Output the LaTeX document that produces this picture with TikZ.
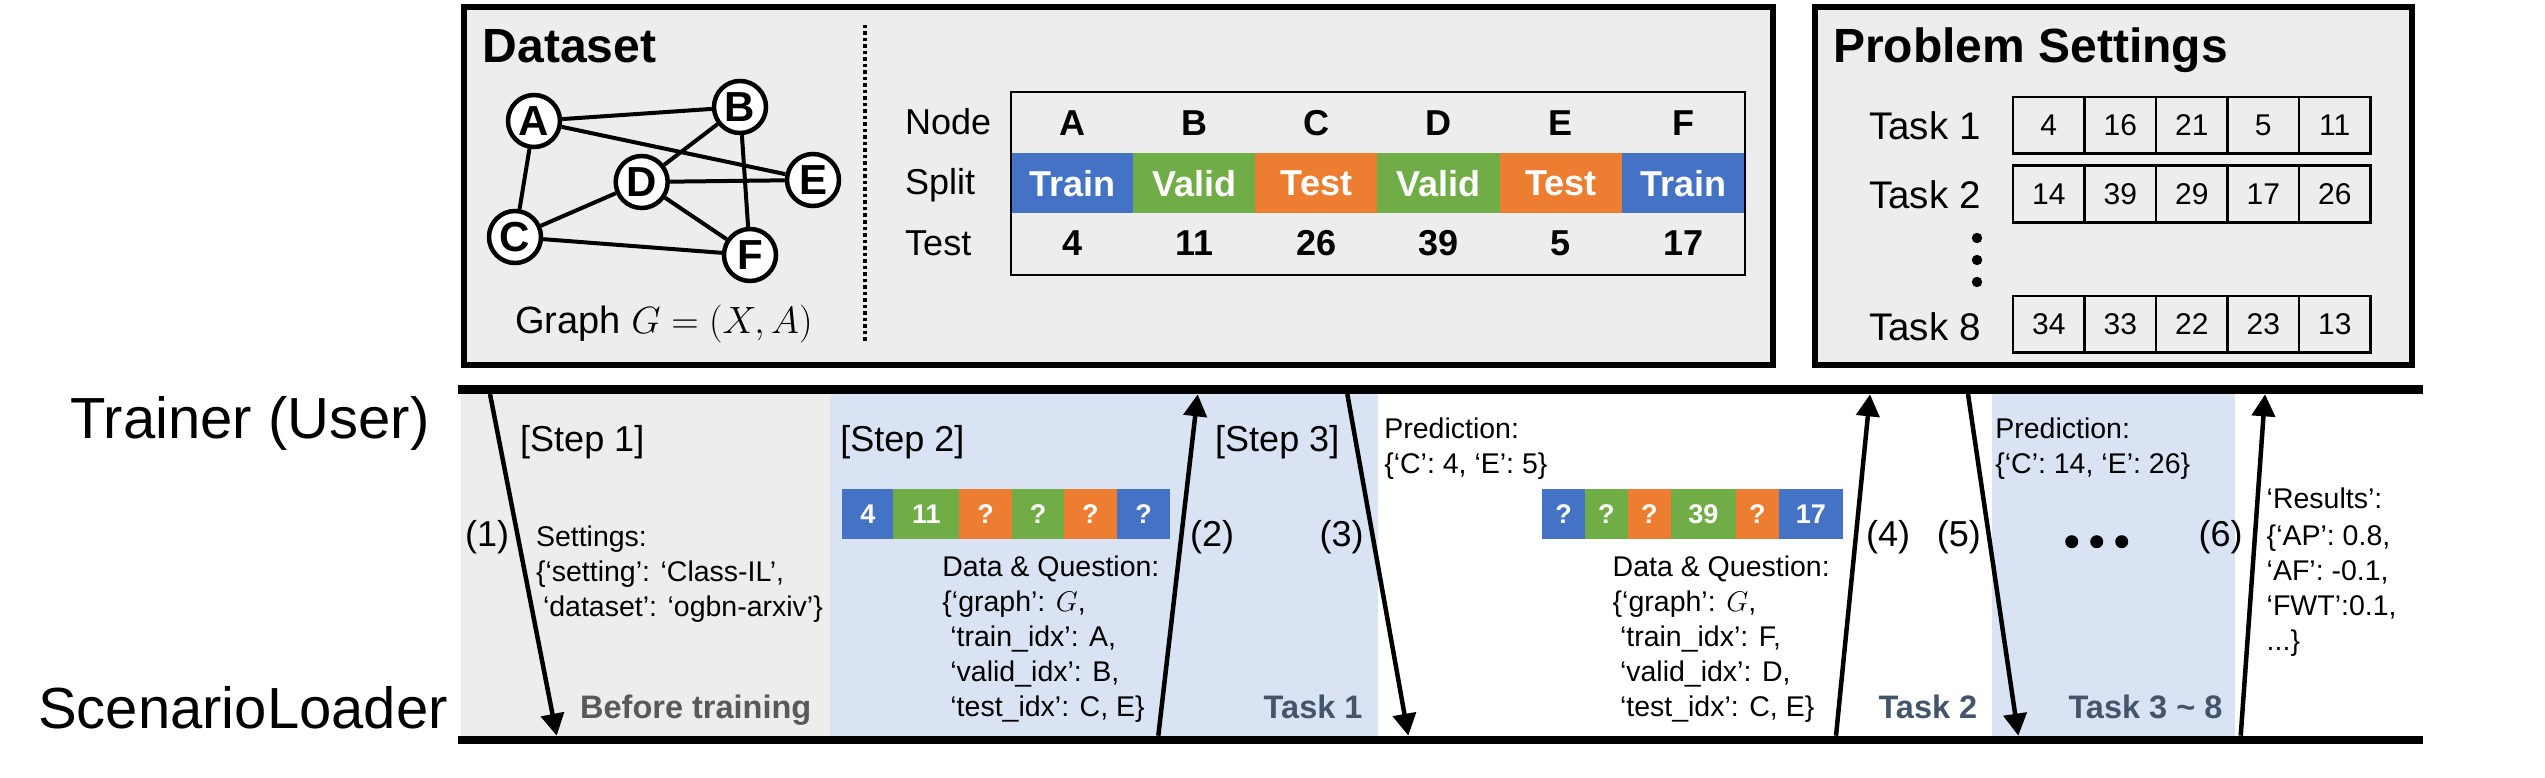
\RequirePackage{fix-cm}
\documentclass[tikz,border=0pt]{standalone}
\usepackage{fontspec}
\setmainfont{Liberation Sans}
\usetikzlibrary{arrows.meta}
\definecolor{cblue}{HTML}{4472C4}
\definecolor{cgreen}{HTML}{70AD47}
\definecolor{corange}{HTML}{ED7D31}
\definecolor{cbg}{HTML}{EDEDED}
\definecolor{clblue}{HTML}{DAE3F3}
\definecolor{ctask}{HTML}{44546A}
\definecolor{cgray}{HTML}{595959}
\newcommand\myfs[1]{\fontsize{#1}{#1}\selectfont}
\begin{document}
\begin{tikzpicture}[x=1pt,y=-1pt,
 txt/.style={inner sep=0pt, outer sep=0pt, anchor=base west, font=\myfs{28.5}},
 big/.style={inner sep=0pt, anchor=base west, font=\myfs{58}},
 ttl/.style={inner sep=0pt, anchor=base west, font=\myfs{48}\bfseries},
 lbl/.style={inner sep=0pt, anchor=base west, font=\myfs{36}},
 gnode/.style={circle, draw, fill=white, line width=4.5pt, minimum size=52pt, inner sep=0pt, font=\myfs{42}\bfseries},
 gedge/.style={line width=4pt},
 hd/.style={inner sep=0pt, font=\myfs{36}\bfseries},
 splitcell/.style={inner sep=0pt, minimum width=122.6pt, minimum height=60pt, text=white, font=\myfs{36}\bfseries},
 qcell/.style={inner sep=0pt, minimum height=50pt, text=white, font=\myfs{27}\bfseries},
 tcell/.style={draw, line width=2.5pt, inner sep=0pt, minimum width=71.5pt, minimum height=56.5pt, font=\myfs{30}},
 tasklbl/.style={inner sep=0pt, font=\myfs{32.5}\bfseries, text=ctask},
 msg/.style={line width=4.5pt, -{Triangle[length=22pt,width=23pt]}},
 bigbox/.style={line width=6pt, fill=cbg},
 lifeline/.style={line width=9pt},
]
\useasboundingbox (0,0) rectangle (2545,778);

% ---------- top boxes ----------
\draw[bigbox] (463.5,7) rectangle (1773,365);
\draw[bigbox] (1815,7) rectangle (2412,365);
\node[ttl] (dtitle) at (482.7,63) {Dataset};
\node[ttl] (ptitle) at (1833,63) {Problem Settings};

% graph
\node[gnode] (A) at (534,121) {A};
\node[gnode] (B) at (740,107) {B};
\node[gnode] (D) at (641.7,182) {D};
\node[gnode] (E) at (813,180) {E};
\node[gnode] (C) at (515,237) {C};
\node[gnode] (F) at (750,255) {F};
\draw[gedge] (A) -- (B);
\draw[gedge] (A) -- (E);
\draw[gedge] (A) -- (C);
\draw[gedge] (B) -- (D);
\draw[gedge] (B) -- (F);
\draw[gedge] (D) -- (E);
\draw[gedge] (D) -- (C);
\draw[gedge] (D) -- (F);
\draw[gedge] (C) -- (F);
\node[inner sep=0pt, anchor=base west, font=\myfs{38}] (gcap) at (515,333) {Graph $G=(X,A)$};

\draw[line width=4pt, dash pattern=on 3.5pt off 3pt] (865,25) -- (865,343);

% table
\node[lbl] (rnode) at (905,135) {Node};
\node[lbl] (rsplit) at (905,195) {Split};
\node[lbl] (rtest) at (905,255) {Test};
\foreach \i/\l/\s/\c/\n in {0/A/Train/cblue/4, 1/B/Valid/cgreen/11, 2/C/Test/corange/26, 3/D/Valid/cgreen/39, 4/E/Test/corange/5, 5/F/Train/cblue/17}{
  \node[hd] (h\l) at ({1072.1+122.2*\i},123.6) {\l};
  \node[splitcell, fill=\c] (s\l) at ({1072.1+122.2*\i},183.3) {\s};
  \node[hd] (t\l) at ({1072.1+122.2*\i},243.6) {\n};
}
\draw[line width=2pt] (1011,92) rectangle (1745,275);

% problem settings
\node[inner sep=0pt, anchor=base west, font=\myfs{38.5}] (task1) at (1869,140) {Task 1};
\node[inner sep=0pt, anchor=base west, font=\myfs{38.5}] (task2) at (1869,208) {Task 2};
\node[inner sep=0pt, anchor=base west, font=\myfs{38.5}] (task8) at (1869,340) {Task 8};
\foreach \n [count=\k from 0] in {4,16,21,5,11}
  \node[tcell] (ra\k) at ({2048.75+71.5*\k},125.5) {\n};
\foreach \n [count=\k from 0] in {14,39,29,17,26}
  \node[tcell] (rb\k) at ({2048.75+71.5*\k},194) {\n};
\foreach \n [count=\k from 0] in {34,33,22,23,13}
  \node[tcell] (rc\k) at ({2048.75+71.5*\k},324) {\n};
\fill (1977,238) circle (5.2);
\fill (1977,260) circle (5.2);
\fill (1977,282) circle (5.2);

% ---------- bottom sequence ----------
\fill[cbg] (460.7,394) rectangle (830,736);
\fill[clblue] (830,394) rectangle (1377.7,736);
\fill[clblue] (1991.7,394) rectangle (2235,736);
\coordinate (tl0) at (458,389.5);
\coordinate (tl1) at (2423,389.5);
\coordinate (bl0) at (458,740);
\coordinate (bl1) at (2423,740);
\draw[lifeline] (tl0) -- (tl1);
\draw[lifeline, line width=8.5pt] (bl0) -- (bl1);

\node[big] (trainer) at (70.5,438.3) {Trainer (User)};
\node[big] (loader) at (38,728.3) {ScenarioLoader};

% arrows
\coordinate (a1s) at (490,394);     \coordinate (a1e) at (556.7,735.7);
\coordinate (a2s) at (1158.3,735.7); \coordinate (a2e) at (1197.7,394.3);
\coordinate (a3s) at (1347.3,394);  \coordinate (a3e) at (1408.3,735.7);
\coordinate (a4s) at (1836,735.7);  \coordinate (a4e) at (1870,394.3);
\coordinate (a5s) at (1968,394);    \coordinate (a5e) at (2018.3,735.7);
\coordinate (a6s) at (2240.7,735.7); \coordinate (a6e) at (2265,394.3);
\draw[msg] (a1s) -- (a1e);
\draw[msg] (a2s) -- (a2e);
\draw[msg] (a3s) -- (a3e);
\draw[msg] (a4s) -- (a4e);
\draw[msg] (a5s) -- (a5e);
\draw[msg] (a6s) -- (a6e);

% step labels and numbers
\node[lbl] (st1) at (520,451.7) {[Step 1]};
\node[lbl] (st2) at (840.2,451.7) {[Step 2]};
\node[lbl] (st3) at (1215,451.7) {[Step 3]};
\node[lbl] (n1) at (465,546.7) {(1)};
\node[lbl] (n2) at (1190,546.7) {(2)};
\node[lbl] (n3) at (1319.3,546.7) {(3)};
\node[lbl] (n4) at (1866,546.7) {(4)};
\node[lbl] (n5) at (1936.7,546.7) {(5)};
\node[lbl] (n6) at (2198.3,546.7) {(6)};

% step 1 settings
\node[txt] (set1) at (536,546.7) {Settings:};
\node[txt] (set2) at (536,581.7) {\{‘setting’: ‘Class-IL’,};
\node[txt] (set3) at (543,616.7) {‘dataset’: ‘ogbn-arxiv’\}};

% colored sequences
\foreach \x/\w/\c/\t [count=\k] in {867.75/51.7/cblue/4, 926.3/65.4/cgreen/11, 985.7/53.4/corange/?, 1038.2/51.6/cgreen/?, 1090.45/52.9/corange/?, 1143.6/53.4/cblue/?}
  \node[qcell, fill=\c, minimum width=\w pt+0.3pt] (qa\k) at (\x,514) {\t};
\foreach \x/\w/\c/\t [count=\k] in {1563.5/43/cblue/?, 1606.35/42.7/cgreen/?, 1649.35/43.3/corange/?, 1703.35/64.7/cgreen/39, 1757.35/43.3/corange/?, 1810.85/63.7/cblue/17}
  \node[qcell, fill=\c, minimum width=\w pt+0.3pt] (qb\k) at (\x,514) {\t};

% data & question 1
\node[txt] (dq1) at (942.4,576.7) {Data \& Question:};
\node[txt] (dq2) at (942.4,611.7) {\{‘graph’: $G$,};
\node[txt] (dq3) at (950.4,646.7) {‘train\_idx’: A,};
\node[txt] (dq4) at (950.4,681.7) {‘valid\_idx’: B,};
\node[txt] (dq5) at (950.4,716.7) {‘test\_idx’: C, E\}};

% data & question 2
\node[txt] (dr1) at (1612.7,576.7) {Data \& Question:};
\node[txt] (dr2) at (1612.7,611.7) {\{‘graph’: $G$,};
\node[txt] (dr3) at (1620,646.7) {‘train\_idx’: F,};
\node[txt] (dr4) at (1620,681.7) {‘valid\_idx’: D,};
\node[txt] (dr5) at (1620,716.7) {‘test\_idx’: C, E\}};

% predictions
\node[txt] (pa1) at (1384.3,438.3) {Prediction:};
\node[txt] (pa2) at (1384.3,473.3) {\{‘C’: 4, ‘E’: 5\}};
\node[txt] (pb1) at (1995.3,438.3) {Prediction:};
\node[txt] (pb2) at (1995.3,473.3) {\{‘C’: 14, ‘E’: 26\}};

% results
\node[txt] (rs1) at (2266.7,508.3) {‘Results’:};
\node[txt] (rs2) at (2266.7,545) {\{‘AP’: 0.8,};
\node[txt] (rs3) at (2266.7,580) {‘AF’: -0.1,};
\node[txt] (rs4) at (2266.7,615) {‘FWT’:0.1,};
\node[txt] (rs5) at (2266.7,650) {...\}};

% ellipsis
\fill (2071.7,541.7) circle (6.5);
\fill (2096.7,541.7) circle (6.5);
\fill (2121.7,541.7) circle (6.5);

% phase labels
\node[tasklbl, text=cgray, anchor=base west] (bt) at (580,718.3) {Before training};
\node[tasklbl, anchor=base east] (tk1) at (1362.7,718.3) {Task 1};
\node[tasklbl, anchor=base west] (tk2) at (1878.3,718.3) {Task 2};
\node[tasklbl, anchor=base west] (tk3) at (2068.3,718.3) {Task 3 \textasciitilde{} 8};
\end{tikzpicture}
\end{document}
